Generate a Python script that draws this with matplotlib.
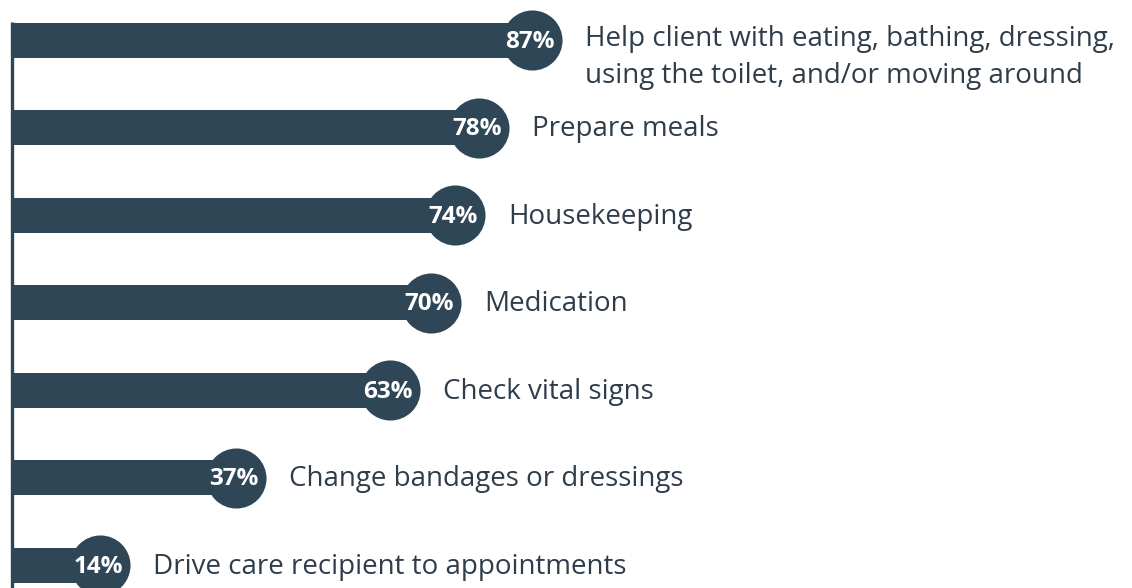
import matplotlib.pyplot as plt
import numpy as np

labels = ["Help client with eating, bathing, dressing,\nusing the toilet, and/or moving around",
          "Prepare meals",
          "Housekeeping",
          "Medication",
          "Check vital signs",
          "Change bandages or dressings",
          "Drive care recipient to appointments"]
values = np.array([87, 78, 74, 70, 63, 37, 14])

bar_color = "#2f4657"
text_color = "#2f3d4b"

fig = plt.figure(figsize=(11.32, 5.88), dpi=100)
ax = fig.add_axes([0, 0, 1, 1])

# pixel -> data: x_px = 17 + 5.92*v, y_px = 40 + 87.5*i
px = 5.92
ax.set_xlim(-17 / px, (1132 - 17) / px)
ax.set_ylim((588 - 40) / 87.5, -40 / 87.5)
ax.axis("off")

y = np.arange(len(values))
left = -5.5 / px
ax.barh(y, values - left, left=left, height=0.4, color=bar_color, zorder=2)
ax.scatter(values, y, s=1870, color=bar_color, zorder=3, linewidths=0)
ax.plot([left, left], [-18 / 87.5, 6.3], color=bar_color, lw=2.4, zorder=2,
        solid_capstyle="butt")

for yi, v, lab in zip(y, values, labels):
    ax.text(v - 0.3, yi + 0.02, f"{v}%", color="white", fontsize=17.5, fontweight="bold",
            ha="center", va="center", family="Open Sans", zorder=4)
    dy = 0.2 if "\n" in lab else 0.02
    ax.text(v + 53 / px, yi + dy, lab, color=text_color, fontsize=20,
            ha="left", va="center", family="Open Sans", linespacing=1.4, zorder=4)

fig.savefig("out.png", dpi=100)
